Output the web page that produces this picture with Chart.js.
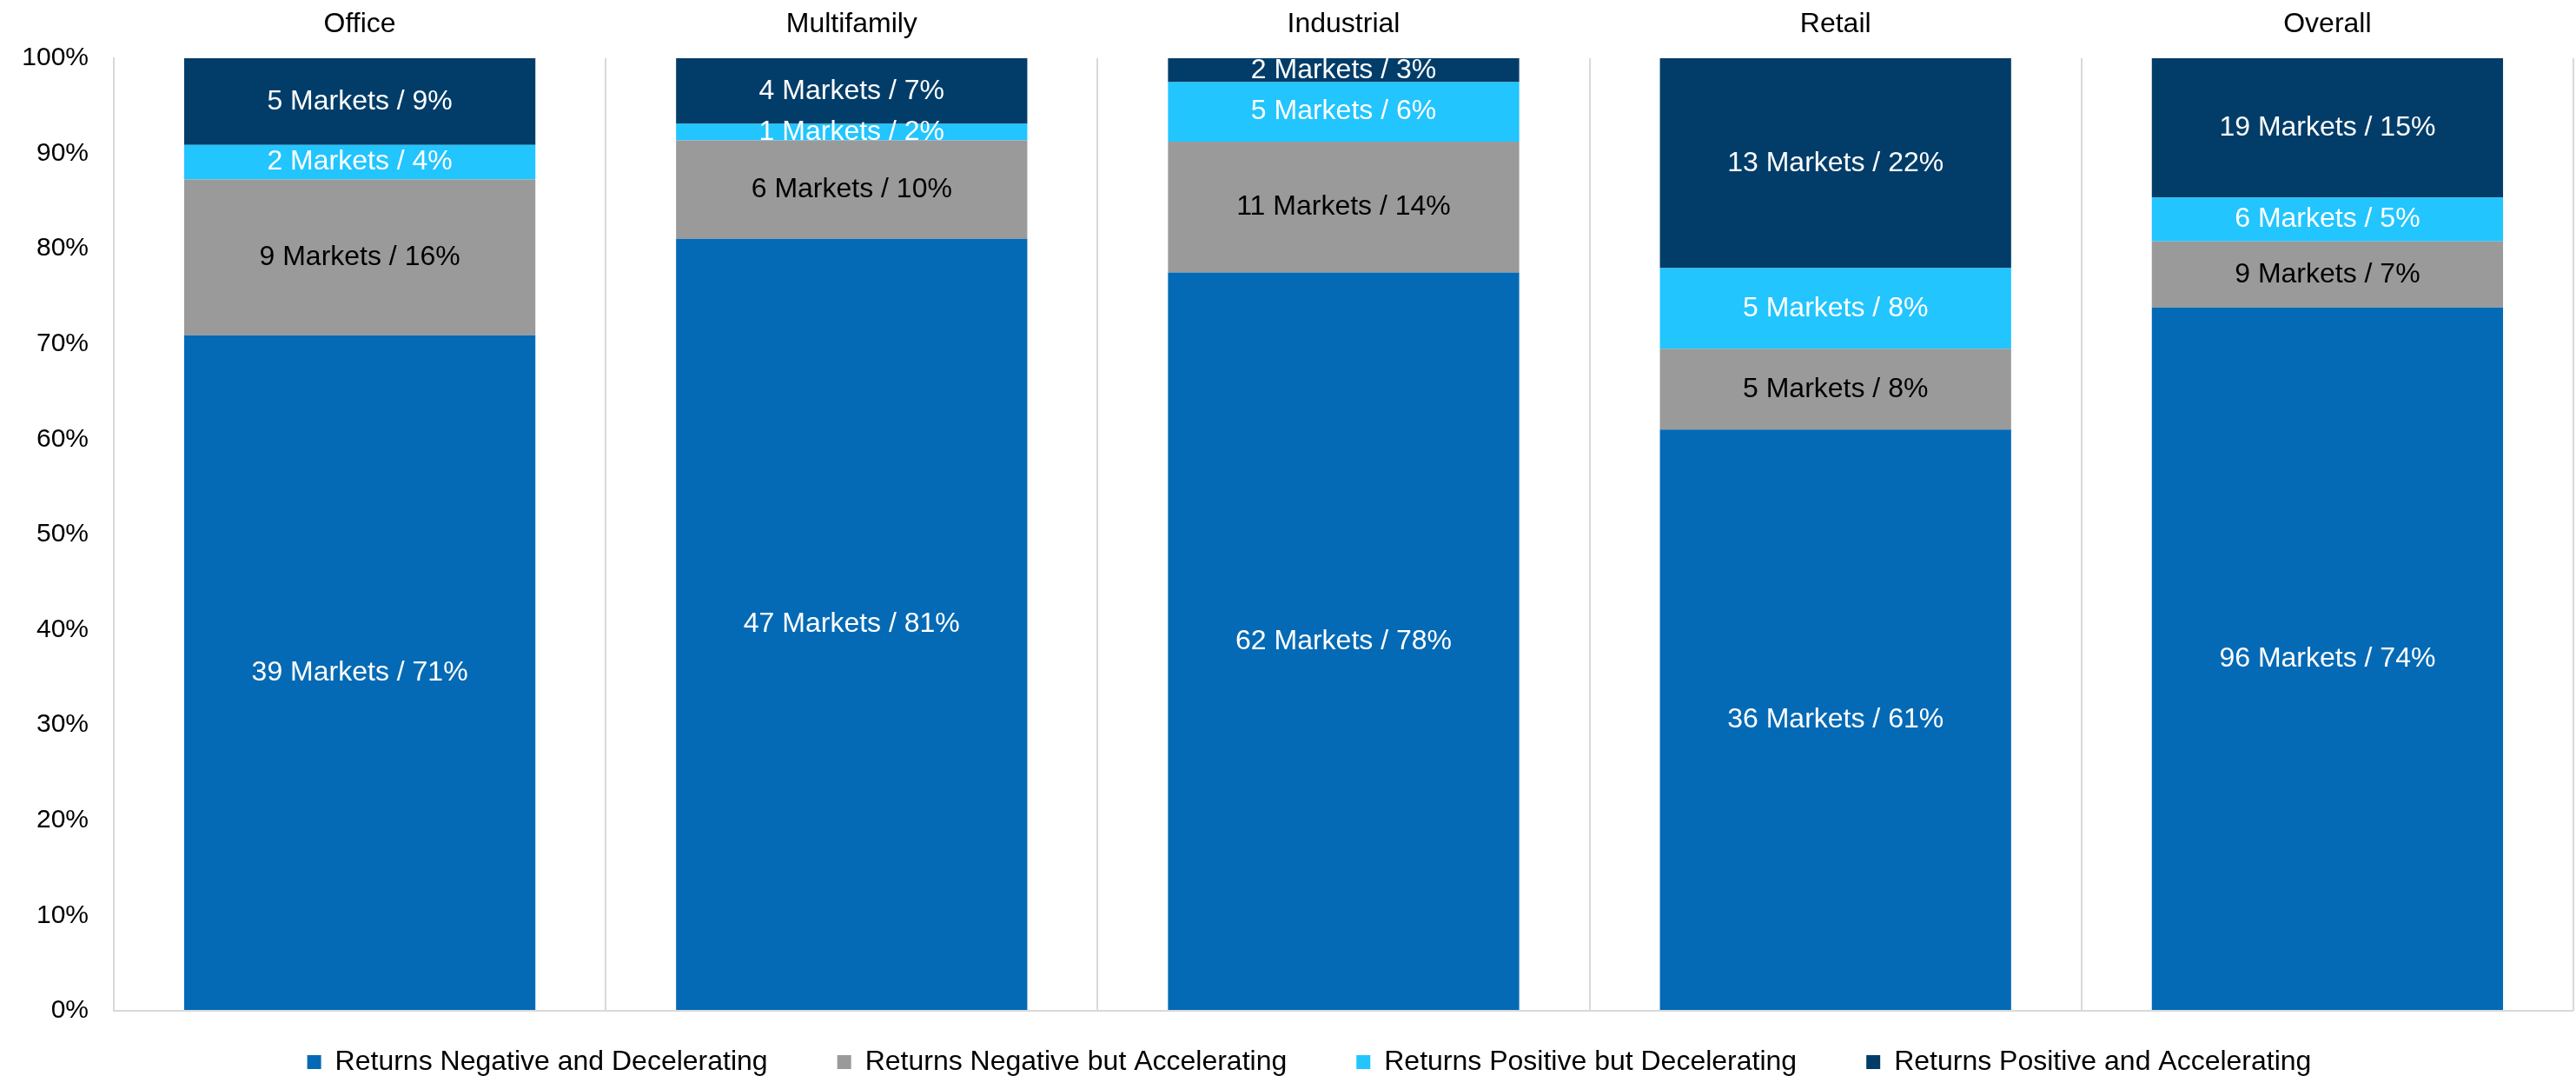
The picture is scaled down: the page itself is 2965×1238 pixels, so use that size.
<!DOCTYPE html>
<html>
<head>
<meta charset="utf-8">
<script src="https://cdn.jsdelivr.net/npm/chart.js@4.4.1/dist/chart.umd.min.js"></script>
<style>
  html, body { margin: 0; padding: 0; background: #fff; }
  #wrap { width: 2965px; height: 1238px; }
</style>
</head>
<body>
<div id="wrap"><canvas id="chart"></canvas></div>
<script>
const categories = ['Office', 'Multifamily', 'Industrial', 'Retail', 'Overall'];
const seriesNames = [
  'Returns Negative and Decelerating',
  'Returns Negative but Accelerating',
  'Returns Positive but Decelerating',
  'Returns Positive and Accelerating'
];
// number of markets per group, one array per series
const negDecel = [39, 47, 62, 36, 96];
const negAccel = [9, 6, 11, 5, 9];
const posDecel = [2, 1, 5, 5, 6];
const posAccel = [5, 4, 2, 13, 19];
const yTicks = [0, 10, 20, 30, 40, 50, 60, 70, 80, 90, 100];

const counts = [negDecel, negAccel, posDecel, posAccel];
const colors = ['#056AB5', '#9A9A9A', '#22C5FE', '#023D69'];
const labelColors = ['#fff', '#000', '#fff', '#fff'];
const totals = categories.map((c, i) => counts.reduce((s, arr) => s + arr[i], 0));

const FONT = '"Liberation Sans", Arial, sans-serif';

// draws "N Markets / P%" in the middle of each segment
const segmentLabels = {
  id: 'segmentLabels',
  afterDatasetsDraw(chart) {
    const ctx = chart.ctx;
    ctx.save();
    ctx.font = '32px ' + FONT;
    ctx.textAlign = 'center';
    ctx.textBaseline = 'middle';
    chart.data.datasets.forEach((ds, d) => {
      chart.getDatasetMeta(d).data.forEach((bar, i) => {
        const n = counts[d][i];
        const pct = Math.round(ds.data[i]);
        ctx.fillStyle = labelColors[d];
        ctx.fillText(n + ' Markets / ' + pct + '%', bar.x, (bar.y + bar.base) / 2);
      });
    });
    ctx.restore();
  }
};

// push the legend row further below the plot (legend clips to its own box)
const legendShift = {
  id: 'legendShift',
  afterLayout(chart) {
    const lg = chart.legend;
    const pad = lg.options.labels.padding;
    const dy = chart.chartArea.bottom + 59 - (lg.top + pad + 16);
    lg.top += dy;
    lg.bottom = chart.height;
    lg.height = lg.bottom - lg.top;
    // reference legend sits a little right of the canvas centre
    lg.left += 26;
    lg.right += 26;
  }
};

new Chart(document.getElementById('chart'), {
  type: 'bar',
  data: {
    labels: categories,
    datasets: counts.map((arr, d) => ({
      label: seriesNames[d],
      data: arr.map((v, i) => v / totals[i] * 100),
      backgroundColor: colors[d],
      borderWidth: 0,
      barPercentage: 0.714,
      categoryPercentage: 1
    }))
  },
  options: {
    responsive: true,
    maintainAspectRatio: false,
    animation: false,
    layout: { padding: { left: 0, right: 3, top: 0, bottom: 0 } },
    plugins: {
      title: { display: false },
      tooltip: { enabled: false },
      legend: {
        position: 'bottom',
        maxHeight: 75,
        labels: {
          boxWidth: 16,
          boxHeight: 16,
          padding: 80,
          color: '#000',
          font: { size: 32, family: FONT }
        }
      }
    },
    scales: {
      x: {
        stacked: true,
        position: 'top',
        afterFit: s => { s.height = 67; },
        border: { display: false },
        grid: { offset: true, color: '#D9D9D9', lineWidth: 2, drawTicks: false },
        ticks: { color: '#000', padding: 20, font: { size: 32, family: FONT } }
      },
      y: {
        stacked: true,
        min: 0,
        max: 100,
        afterFit: s => { s.width = 131; },
        afterBuildTicks: s => { s.ticks = yTicks.map(v => ({ value: v })); },
        border: { display: true, color: '#D9D9D9', width: 2 },
        grid: {
          drawTicks: false,
          lineWidth: 2,
          color: c => (c.tick && c.tick.value === 0 ? '#D9D9D9' : 'rgba(0,0,0,0)')
        },
        ticks: {
          color: '#000',
          padding: 29,
          font: { size: 30, family: FONT },
          callback: v => v + '%'
        }
      }
    }
  },
  plugins: [segmentLabels, legendShift]
});
</script>
</body>
</html>
